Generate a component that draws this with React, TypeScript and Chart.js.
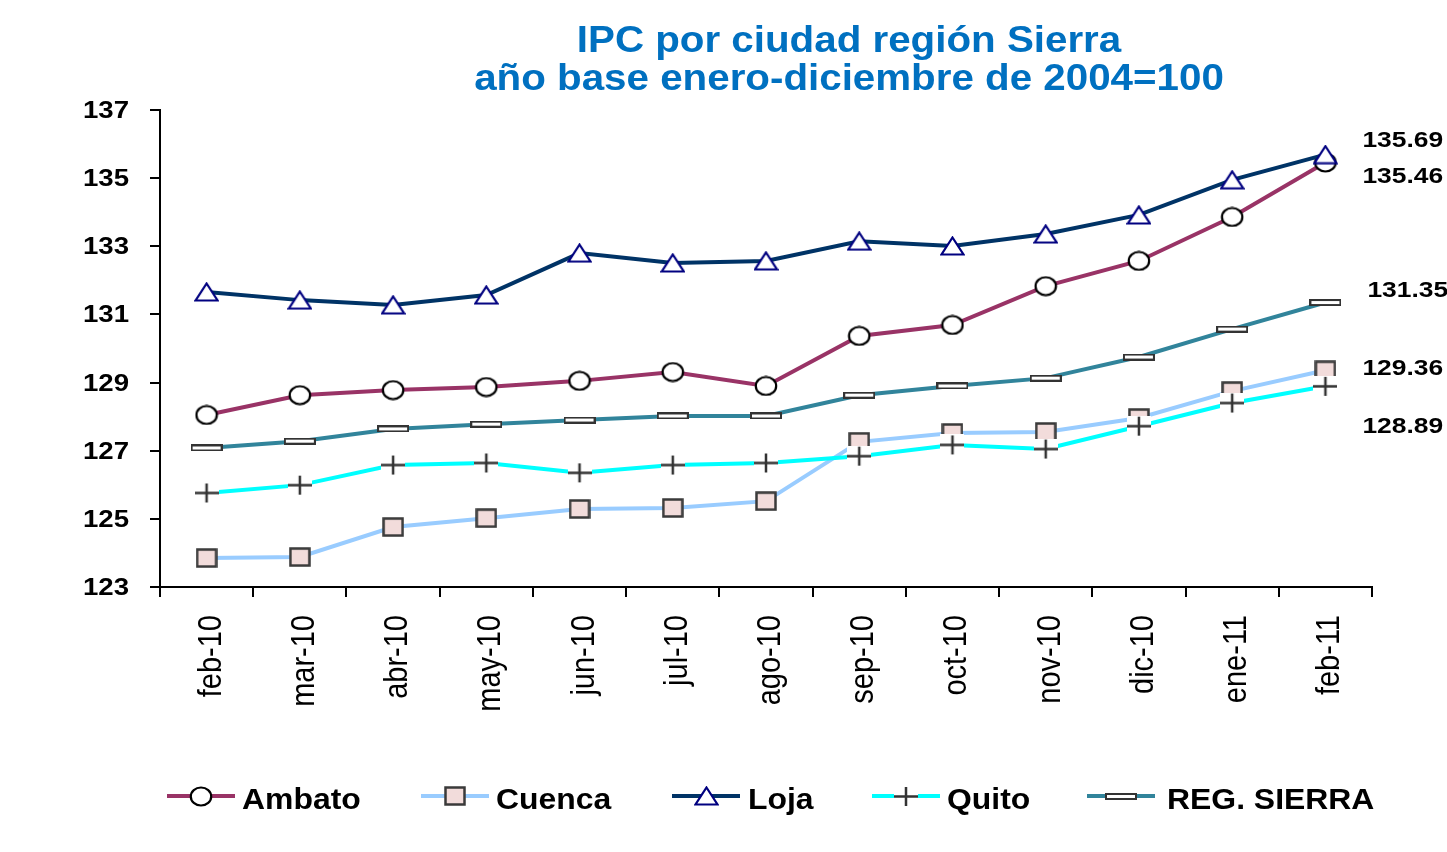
import React, { useEffect, useRef } from "react";
import { Chart, registerables } from "chart.js";

Chart.register(...registerables);

const categories = ["feb-10", "mar-10", "abr-10", "may-10", "jun-10", "jul-10", "ago-10", "sep-10", "oct-10", "nov-10", "dic-10", "ene-11", "feb-11"];
const ambato = [128.05, 128.63, 128.78, 128.87, 129.05, 129.31, 128.9, 130.37, 130.69, 131.83, 132.57, 133.86, 135.46];
const cuenca = [123.85, 123.88, 124.76, 125.02, 125.29, 125.32, 125.52, 127.26, 127.52, 127.55, 127.96, 128.75, 129.36];
const loja = [131.66, 131.42, 131.28, 131.57, 132.8, 132.51, 132.57, 133.15, 133.01, 133.36, 133.92, 134.95, 135.69];
const quito = [125.76, 125.99, 126.58, 126.64, 126.35, 126.58, 126.64, 126.84, 127.17, 127.05, 127.72, 128.4, 128.89];
const regSierra = [127.08, 127.28, 127.64, 127.78, 127.9, 128.02, 128.02, 128.63, 128.9, 129.13, 129.75, 130.57, 131.35];
const seriesNames = ["Ambato", "Cuenca", "Loja", "Quito", "REG. SIERRA"];
const yTicks = [123, 125, 127, 129, 131, 133, 135, 137];
const titleLines = ["IPC por ciudad región Sierra", "año base enero-diciembre de 2004=100"];

const FONT = '"Liberation Sans", Arial, sans-serif';

function makeCanvas(w: number, h: number, draw: (ctx: CanvasRenderingContext2D) => void) {
  const c = document.createElement("canvas");
  c.width = w;
  c.height = h;
  const ctx = c.getContext("2d")!;
  draw(ctx);
  return c;
}

function makeMarkers() {
  const circle = makeCanvas(24, 21, (ctx) => {
    ctx.beginPath();
    ctx.ellipse(12, 10.5, 10.2, 9, 0, 0, Math.PI * 2);
    ctx.fillStyle = "#ffffff";
    ctx.fill();
    ctx.lineWidth = 2.2;
    ctx.strokeStyle = "#000000";
    ctx.stroke();
  });
  const square = makeCanvas(22, 20, (ctx) => {
    ctx.fillStyle = "#F2DCDB";
    ctx.fillRect(1.5, 1.5, 19, 17);
    ctx.lineWidth = 2.5;
    ctx.strokeStyle = "#3a3a3a";
    ctx.strokeRect(1.5, 1.5, 19, 17);
  });
  const triangle = makeCanvas(25, 20, (ctx) => {
    ctx.beginPath();
    ctx.moveTo(12.5, 1.5);
    ctx.lineTo(23.5, 18.5);
    ctx.lineTo(1.5, 18.5);
    ctx.closePath();
    ctx.fillStyle = "#ffffff";
    ctx.fill();
    ctx.lineWidth = 2.2;
    ctx.strokeStyle = "#000080";
    ctx.stroke();
  });
  const cross = makeCanvas(24, 21, (ctx) => {
    ctx.fillStyle = "#ffffff";
    ctx.fillRect(0, 0, 24, 21);
    ctx.lineWidth = 2.5;
    ctx.strokeStyle = "#333333";
    ctx.beginPath();
    ctx.moveTo(0, 10.5);
    ctx.lineTo(24, 10.5);
    ctx.moveTo(12, 1);
    ctx.lineTo(12, 20);
    ctx.stroke();
  });
  const rect = makeCanvas(32, 7, (ctx) => {
    ctx.fillStyle = "#333333";
    ctx.fillRect(0, 0, 32, 7);
    ctx.fillStyle = "#ffffff";
    ctx.fillRect(2, 2, 28, 3);
  });
  return [circle, square, triangle, cross, rect];
}

const lineColors = ["#993366", "#99CCFF", "#003366", "#00FFFF", "#31849B"];
const drawOrder = [5, 4, 3, 2, 1];
const endLabelDx = [37, 37, 37, 37, 42];
const endLabelDy = [20.5, 5, -8, 47, -6];
const legendX = [167, 421, 672, 872, 1087];
const legendTextDx = [75, 75, 76, 75, 80];

function drawText(ctx: CanvasRenderingContext2D, s: string, x: number, y: number, font: string, color: string, align: CanvasTextAlign, sx: number) {
  ctx.save();
  ctx.font = font;
  ctx.fillStyle = color;
  ctx.textAlign = align;
  ctx.textBaseline = "alphabetic";
  ctx.translate(x, y);
  ctx.scale(sx, 1);
  ctx.fillText(s, 0, 0);
  ctx.restore();
}

export default function App() {
  const ref = useRef<HTMLCanvasElement | null>(null);

  useEffect(() => {
    if (!ref.current) return;
    const markers = makeMarkers();
    const seriesData = [ambato, cuenca, loja, quito, regSierra];

    const textPlugin = {
      id: "customText",
      afterDraw(chart: any) {
        const ctx: CanvasRenderingContext2D = chart.ctx;
        const xs = chart.scales.x;
        const ys = chart.scales.y;

        drawText(ctx, titleLines[0], 849, 52, `bold 36px ${FONT}`, "#0070C0", "center", 1.12);
        drawText(ctx, titleLines[1], 849, 90, `bold 36px ${FONT}`, "#0070C0", "center", 1.12);

        yTicks.forEach((v) => {
          const y = ys.getPixelForValue(v);
          drawText(ctx, String(v), 129, y + 8, `bold 23px ${FONT}`, "#000000", "right", 1.2);
        });

        categories.forEach((c, i) => {
          const px = xs.getPixelForValue(i);
          ctx.save();
          ctx.translate(px + 14, 615);
          ctx.rotate(-Math.PI / 2);
          ctx.scale(1, 1.17);
          ctx.font = `29px ${FONT}`;
          ctx.fillStyle = "#000000";
          ctx.textAlign = "right";
          ctx.textBaseline = "alphabetic";
          ctx.fillText(c, 0, 0);
          ctx.restore();
        });

        seriesData.forEach((arr, i) => {
          const last = arr.length - 1;
          const px = xs.getPixelForValue(last);
          const py = ys.getPixelForValue(arr[last]);
          drawText(ctx, arr[last].toFixed(2), px + endLabelDx[i], py + endLabelDy[i], `bold 22px ${FONT}`, "#000000", "left", 1.2);
        });

        seriesNames.forEach((name, i) => {
          const x0 = legendX[i];
          const ly = 796;
          ctx.save();
          ctx.strokeStyle = lineColors[i];
          ctx.lineWidth = 4;
          ctx.beginPath();
          ctx.moveTo(x0, ly);
          ctx.lineTo(x0 + 68, ly);
          ctx.stroke();
          const m = markers[i];
          ctx.drawImage(m, Math.round(x0 + 34 - m.width / 2), Math.round(ly - m.height / 2));
          ctx.restore();
          drawText(ctx, name, x0 + legendTextDx[i], 809, `bold 29px ${FONT}`, "#000000", "left", 1.1);
        });
      },
    };

    const chart = new Chart(ref.current, {
      type: "line",
      data: {
        labels: categories,
        datasets: seriesData.map((d, i) => ({
          label: seriesNames[i],
          data: d,
          borderColor: lineColors[i],
          backgroundColor: lineColors[i],
          borderWidth: 4,
          tension: 0,
          fill: false,
          pointStyle: markers[i],
          pointRadius: 10,
          pointHoverRadius: 10,
          order: drawOrder[i],
        })),
      },
      options: {
        responsive: false,
        animation: false,
        devicePixelRatio: 1,
        layout: { padding: { left: 0, top: 110, right: 75, bottom: 245 } },
        plugins: {
          legend: { display: false },
          title: { display: false },
          tooltip: { enabled: false },
        },
        events: [],
        scales: {
          x: {
            type: "category",
            offset: true,
            afterFit: (s: any) => {
              s.height = 20;
            },
            grid: {
              offset: true,
              drawOnChartArea: false,
              drawTicks: true,
              tickLength: 10,
              color: "#000000",
              lineWidth: 2,
            },
            border: { display: true, color: "#000000", width: 2 },
            ticks: { display: false },
          },
          y: {
            min: 123,
            max: 137,
            afterFit: (s: any) => {
              s.width = 160;
            },
            grid: {
              drawOnChartArea: false,
              drawTicks: true,
              tickLength: 10,
              color: "#000000",
              lineWidth: 2,
            },
            border: { display: true, color: "#000000", width: 2 },
            ticks: { display: false, stepSize: 2 },
          },
        },
      },
      plugins: [textPlugin],
    } as any);

    return () => chart.destroy();
  }, []);

  return (
    <div style={{ position: "fixed", left: 0, top: 0, width: 1447, height: 852, background: "#ffffff" }}>
      <canvas ref={ref} width={1447} height={852} style={{ display: "block" }} />
    </div>
  );
}
